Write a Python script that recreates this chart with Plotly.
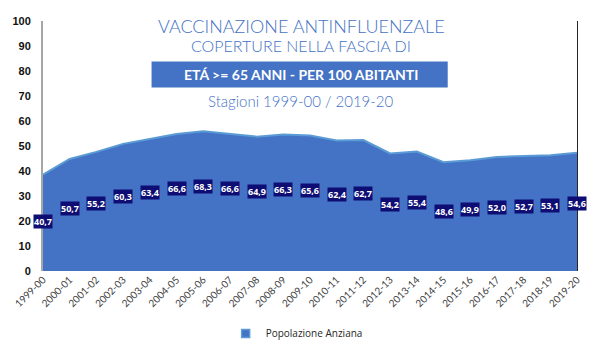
import plotly.graph_objects as go

seasons = ["1999-00", "2000-01", "2001-02", "2002-03", "2003-04", "2004-05", "2005-06",
           "2006-07", "2007-08", "2008-09", "2009-10", "2010-11", "2011-12", "2012-13",
           "2013-14", "2014-15", "2015-16", "2016-17", "2017-18", "2018-19", "2019-20"]
coverage = [40.7, 50.7, 55.2, 60.3, 63.4, 66.6, 68.3, 66.6, 64.9, 66.3, 65.6, 62.4, 62.7,
            54.2, 55.4, 48.6, 49.9, 52.0, 52.7, 53.1, 54.6]
series_name = "Popolazione Anziana"
y_ticks = [0, 10, 20, 30, 40, 50, 60, 70, 80, 90, 100]

area_range = [-20.4, 138.3]
label_range = [0.4, 202]

BLUE = "#4472c4"
EDGE = "#5b9bd5"

fig = go.Figure()
# invisible trace so the primary (0-100) axis is drawn
fig.add_trace(go.Scatter(x=seasons, y=[None] * len(seasons), yaxis="y", mode="lines",
                         showlegend=False, hoverinfo="skip"))
# baseline at the bottom of the secondary axis (Excel areas fill to the axis minimum)
fig.add_trace(go.Scatter(x=seasons, y=[area_range[0]] * len(seasons), yaxis="y2",
                         mode="lines", line=dict(width=0, color=BLUE),
                         showlegend=False, hoverinfo="skip"))
fig.add_trace(go.Scatter(x=seasons, y=coverage, yaxis="y2", name=series_name,
                         mode="lines", fill="tonexty", fillcolor=BLUE,
                         line=dict(color=EDGE, width=2), showlegend=False))
# legend entry drawn as a small square like the reference
fig.add_trace(go.Scatter(x=[None], y=[None], yaxis="y2", name=series_name, mode="markers",
                         marker=dict(symbol="square", size=8, color=BLUE,
                                     line=dict(color=EDGE, width=1.5))))
# invisible helper for the label axis
fig.add_trace(go.Scatter(x=seasons, y=coverage, yaxis="y3", mode="markers",
                         marker=dict(opacity=0), showlegend=False, hoverinfo="skip"))

for s, v in zip(seasons, coverage):
    fig.add_annotation(x=s, y=v, xref="x", yref="y3", yanchor="middle",
                       text=f"<b>{v:.1f}</b>".replace(".", ","), showarrow=False,
                       font=dict(family="Open Sans", size=9, color="white"),
                       bgcolor="#0d0d73", borderpad=0)

title_font = "Lato"
fig.add_annotation(x=0.484, y=0.979, xref="paper", yref="paper", showarrow=False,
                   yanchor="middle", text="VACCINAZIONE ANTINFLUENZALE",
                   font=dict(family=title_font, size=18, color=BLUE, weight=300))
fig.add_annotation(x=0.484, y=0.902, xref="paper", yref="paper", showarrow=False,
                   yanchor="middle", text="COPERTURE NELLA FASCIA DI",
                   font=dict(family=title_font, size=16, color=BLUE, weight=300))
fig.add_shape(type="rect", xref="paper", yref="paper", x0=0.2033, x1=0.7579,
              y0=0.734, y1=0.838, fillcolor=BLUE, line=dict(width=0))
fig.add_annotation(x=0.484, y=0.786, xref="paper", yref="paper", showarrow=False,
                   yanchor="middle", text="<b>ETÁ >= 65 ANNI - PER 100 ABITANTI</b>",
                   font=dict(family=title_font, size=14, color="white"))
fig.add_annotation(x=0.484, y=0.68, xref="paper", yref="paper", showarrow=False,
                   yanchor="middle", text="Stagioni 1999-00 / 2019-20",
                   font=dict(family=title_font, size=15, color=BLUE, weight=300))

fig.update_layout(
    width=601, height=360,
    margin=dict(l=36, r=24, t=21, b=80),
    paper_bgcolor="white", plot_bgcolor="white",
    showlegend=True,
    legend=dict(x=0.475, y=-0.25, xanchor="center", yanchor="middle",
                orientation="h", font=dict(family="Open Sans", size=10, color="#262626")),
    xaxis=dict(type="category", range=[0, len(seasons) - 1], tickangle=-45,
               showgrid=False, showline=False, ticks="",
               tickfont=dict(family="Lato", size=10, color="#404040")),
    yaxis=dict(range=[0, 100], tickvals=y_ticks, showgrid=False, zeroline=False,
               showline=True, linecolor="#a6a6a6", linewidth=2,
               ticks="outside", ticklen=8, tickcolor="rgba(0,0,0,0)",
               tickfont=dict(family="Liberation Sans", size=11, color="#111111",
                             weight="bold")),
    yaxis2=dict(range=area_range, overlaying="y", side="right", showgrid=False,
                zeroline=False, showline=True, linecolor="#262626", linewidth=1,
                showticklabels=False, ticks=""),
    yaxis3=dict(range=label_range, overlaying="y", side="right", showgrid=False,
                zeroline=False, showline=False, showticklabels=False, ticks="",
                visible=False),
)

fig.write_html("out.html")
